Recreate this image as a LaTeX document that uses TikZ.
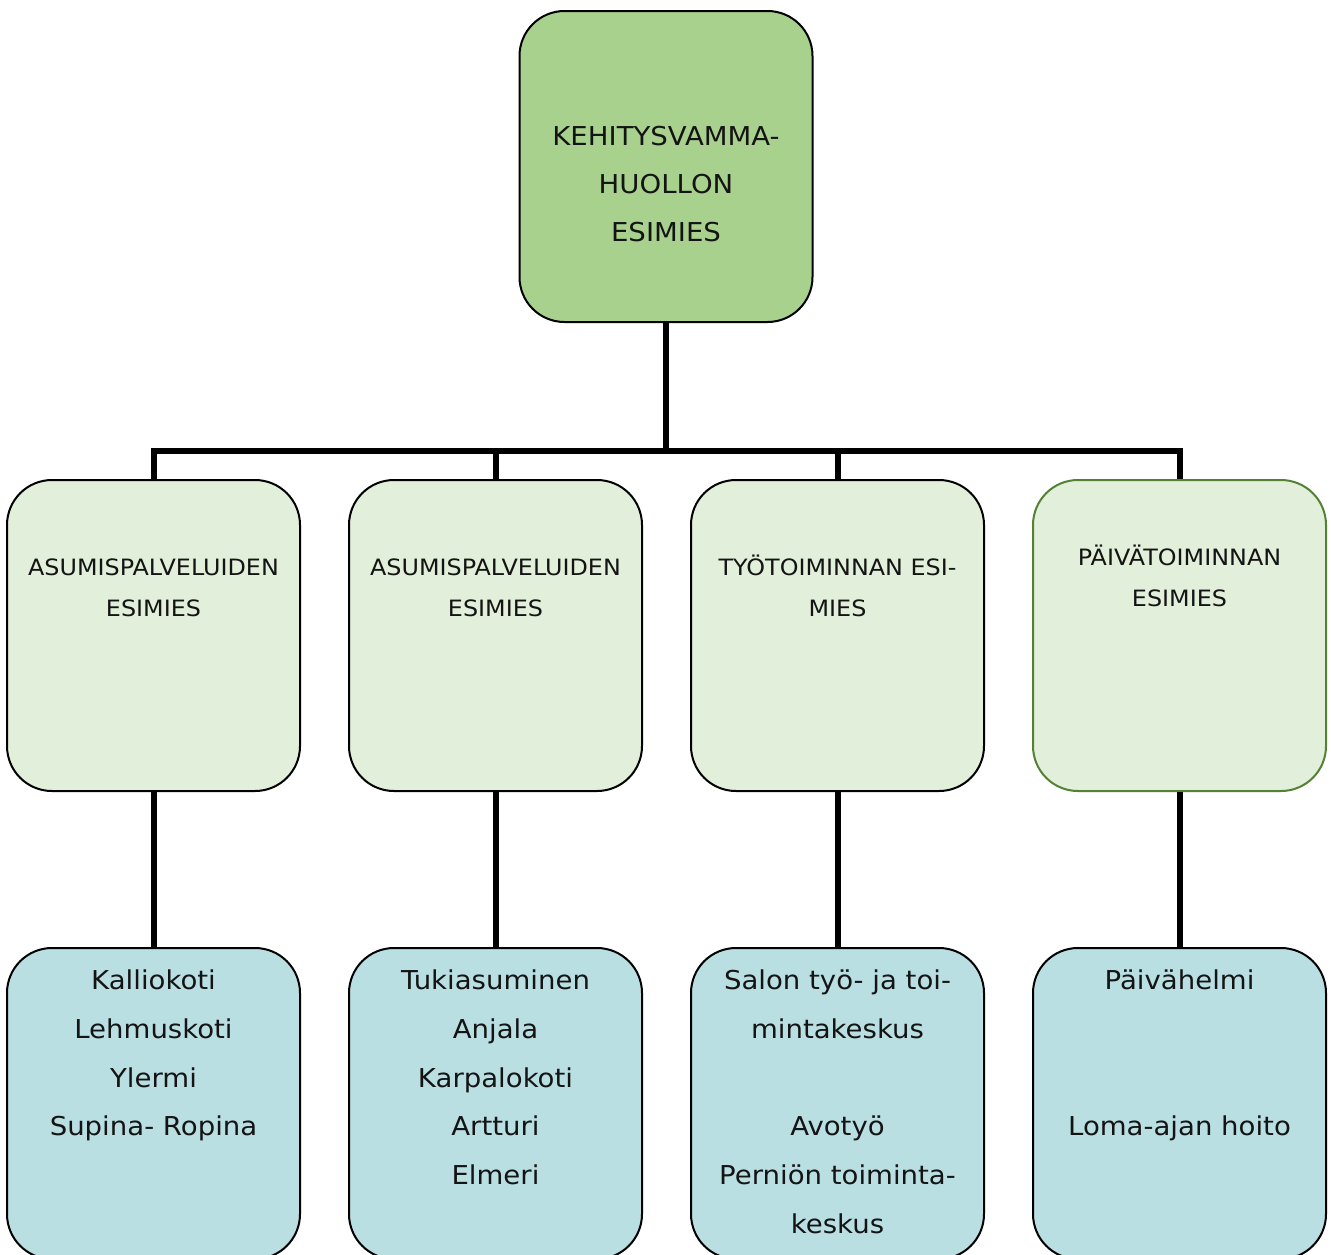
\documentclass[tikz,border=0pt]{standalone}
\usepackage{fontspec}
\setmainfont{DejaVu Sans}
\newfontfamily\widefont[FakeStretch=1.06]{DejaVu Sans}
\definecolor{topfill}{HTML}{A9D18E}
\definecolor{midfill}{HTML}{E2EFDA}
\definecolor{botfill}{HTML}{B9DFE3}
\definecolor{greenline}{HTML}{548235}
\tikzset{
  box/.style={draw=black, line width=2pt, rounded corners=45pt, minimum width=293pt, minimum height=311pt, inner sep=0pt, anchor=north},
  topbox/.style={box, fill=topfill},
  midbox/.style={box, fill=midfill},
  botbox/.style={box, fill=botfill},
  conn/.style={draw=black, line width=6pt},
  bigtxt/.style={anchor=base, inner sep=0pt, font=\widefont\fontsize{26pt}{30pt}\selectfont, text=black!92},
  smalltxt/.style={anchor=base, inner sep=0pt, font=\widefont\fontsize{22.5pt}{26pt}\selectfont, text=black!92}
}
\begin{document}
\begin{tikzpicture}[x=1pt,y=-1pt]
\clip (0,0) rectangle (1331,1254);
\fill[white] (0,0) rectangle (1331,1254);
\coordinate (bar) at (666,451);
% boxes
\node[topbox] (top) at (666,10) {};
\node[midbox] (m1) at (153.5,479) {};
\node[midbox] (m2) at (495.5,479) {};
\node[midbox] (m3) at (837.5,479) {};
\node[midbox, draw=greenline] (m4) at (1179.5,479) {};
\node[botbox] (b1) at (153.5,947) {};
\node[botbox] (b2) at (495.5,947) {};
\node[botbox] (b3) at (837.5,947) {};
\node[botbox] (b4) at (1179.5,947) {};
% connectors
\draw[conn] (top.south) -- (bar);
\draw[conn, line join=miter] (m1.north) |- (bar) -| (m4.north);
\draw[conn] (m2.north) -- (m2.north |- bar);
\draw[conn] (m3.north) -- (m3.north |- bar);
\draw[conn] (m1.south) -- (b1.north);
\draw[conn] (m2.south) -- (b2.north);
\draw[conn] (m3.south) -- (b3.north);
\draw[conn] (m4.south) -- (b4.north);
% top text
\node[bigtxt] (t1) at (666,145) {KEHITYSVAMMA-};
\node[bigtxt] (t2) at (666,193) {HUOLLON};
\node[bigtxt] (t3) at (666,241) {ESIMIES};
% middle texts
\node[smalltxt] (m1a) at (153.5,575) {ASUMISPALVELUIDEN};
\node[smalltxt] (m1b) at (153.5,616) {ESIMIES};
\node[smalltxt] (m2a) at (495.5,575) {ASUMISPALVELUIDEN};
\node[smalltxt] (m2b) at (495.5,616) {ESIMIES};
\node[smalltxt] (m3a) at (837.5,575) {TYÖTOIMINNAN ESI-};
\node[smalltxt] (m3b) at (837.5,616) {MIES};
\node[smalltxt] (m4a) at (1179.5,565) {PÄIVÄTOIMINNAN};
\node[smalltxt] (m4b) at (1179.5,606) {ESIMIES};
% bottom texts
\node[bigtxt] (b1a) at (153.5,989) {Kalliokoti};
\node[bigtxt] (b1b) at (153.5,1038) {Lehmuskoti};
\node[bigtxt] (b1c) at (153.5,1087) {Ylermi};
\node[bigtxt] (b1d) at (153.5,1135) {Supina- Ropina};
\node[bigtxt] (b2a) at (495.5,989) {Tukiasuminen};
\node[bigtxt] (b2b) at (495.5,1038) {Anjala};
\node[bigtxt] (b2c) at (495.5,1087) {Karpalokoti};
\node[bigtxt] (b2d) at (495.5,1135) {Artturi};
\node[bigtxt] (b2e) at (495.5,1184) {Elmeri};
\node[bigtxt] (b3a) at (837.5,989) {Salon työ- ja toi-};
\node[bigtxt] (b3b) at (837.5,1038) {mintakeskus};
\node[bigtxt] (b3c) at (837.5,1135) {Avotyö};
\node[bigtxt] (b3d) at (837.5,1184) {Perniön toiminta-};
\node[bigtxt] (b3e) at (837.5,1233) {keskus};
\node[bigtxt] (b4a) at (1179.5,989) {Päivähelmi};
\node[bigtxt] (b4b) at (1179.5,1135) {Loma-ajan hoito};
\end{tikzpicture}
\end{document}
